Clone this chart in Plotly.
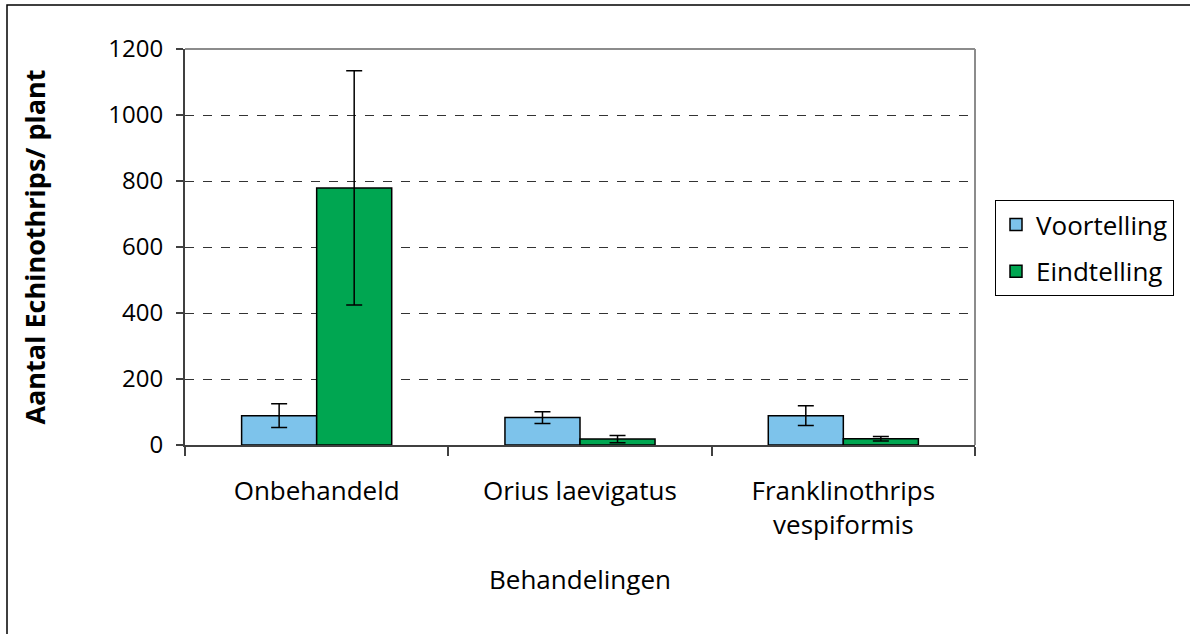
import plotly.graph_objects as go

categories = ["Onbehandeld", "Orius laevigatus", "Franklinothrips<br>vespiformis"]
voortelling = [89, 83, 89]
voortelling_err = [36, 18, 30]
eindtelling = [779, 18, 19]
eindtelling_err = [355, 11, 7]
y_ticks = [0, 200, 400, 600, 800, 1000, 1200]

FONT = "Open Sans"
L, R, T, B = 185, 975, 49, 445
W, H = 1190, 634
pw, ph = R - L, B - T

fig = go.Figure()
fig.add_trace(go.Bar(
    name="Voortelling", x=categories, y=voortelling,
    marker=dict(color="#7DC3EB", line=dict(color="black", width=1.5)),
    error_y=dict(type="data", array=voortelling_err, color="black", thickness=1.5, width=8),
    legendgroup="a",
))
fig.add_trace(go.Bar(
    name="Eindtelling", x=categories, y=eindtelling,
    marker=dict(color="#00A651", line=dict(color="black", width=1.5)),
    error_y=dict(type="data", array=eindtelling_err, color="black", thickness=1.5, width=8),
    legendgroup="b",
))

def px_x(p):
    return (p - L) / pw

def px_y(p):
    return (B - p) / ph

shapes = [
    # outer chart border
    dict(type="rect", xref="paper", yref="paper", x0=px_x(7), x1=px_x(1200), y0=px_y(645), y1=px_y(5),
         line=dict(color="black", width=1.5), layer="below"),
    # plot area top/right border
    dict(type="line", xref="paper", yref="paper", x0=0, x1=1, y0=1, y1=1, line=dict(color="#8c8c8c", width=2)),
    dict(type="line", xref="paper", yref="paper", x0=1, x1=1, y0=0, y1=1, line=dict(color="#8c8c8c", width=2)),
]

fig.update_layout(
    width=W, height=H,
    margin=dict(l=L, r=W - R, t=T, b=H - B, pad=0),
    paper_bgcolor="white", plot_bgcolor="white",
    barmode="group", bargap=0.43, bargroupgap=0,
    font=dict(family=FONT, size=24, color="black"),
    showlegend=True,
    legend=dict(
        x=px_x(995), y=px_y(200), xanchor="left", yanchor="top",
        bordercolor="black", borderwidth=1, bgcolor="white",
        font=dict(family=FONT, size=26, color="black"),
        traceorder="grouped", tracegroupgap=10,
    ),
    shapes=shapes,
    xaxis=dict(
        showline=True, linecolor="#404040", linewidth=2,
        ticks="outside", tickson="boundaries", ticklen=9, tickcolor="#404040", tickwidth=1.5,
        ticklabelstandoff=22,
        tickfont=dict(family=FONT, size=26),
        title=dict(text="Behandelingen", font=dict(family=FONT, size=26), standoff=30),
        showgrid=False,
    ),
    yaxis=dict(
        range=[0, 1200], tickvals=y_ticks,
        showline=True, linecolor="#404040", linewidth=2,
        ticks="outside", ticklen=7, tickcolor="#404040", tickwidth=1.5,
        ticklabelstandoff=8,
        tickfont=dict(family=FONT, size=24),
        showgrid=True, gridcolor="#333333", gridwidth=1, griddash="dash",
        zeroline=False,
        title=dict(text="<b>Aantal Echinothrips/ plant</b>", font=dict(family=FONT, size=27), standoff=55),
    ),
)

fig.write_html("out.html", config={"displayModeBar": False},
               post_script="document.body.style.margin='0';document.body.style.overflow='hidden';")
